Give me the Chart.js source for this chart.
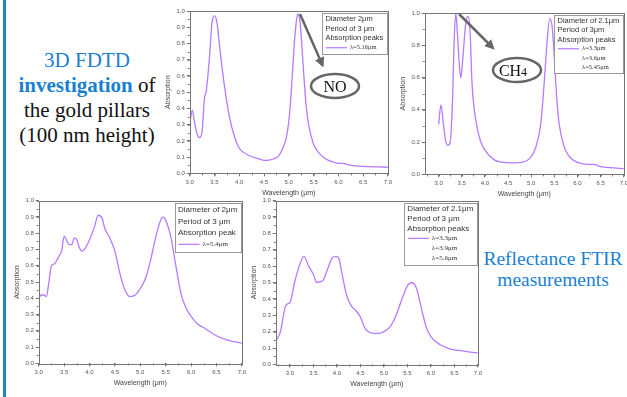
<!DOCTYPE html>
<html>
<head>
<meta charset="utf-8">
<script src="https://cdn.jsdelivr.net/npm/chart.js@4.4.1/dist/chart.umd.min.js"></script>
<style>
  html, body { margin: 0; padding: 0; background: #fff; }
  body { width: 627px; height: 397px; position: relative; overflow: hidden; }
  .bar { position: absolute; left: 3px; top: 0; width: 3px; height: 397px; background: #1f88b5; }
  .box { position: absolute; }
  .txt { position: absolute; font-family: "Liberation Serif", serif; text-align: center; color: #111; white-space: nowrap; }
  .blue { color: #1b7fd0; }
  svg { position: absolute; left: 0; top: 0; }
</style>
</head>
<body>
<div class="bar"></div>

<div class="txt" style="left:7px; top:48px; width:160px; font-size:21px; line-height:25px;">
  <span class="blue">3D FDTD</span><br>
  <b class="blue">investigation</b> of<br>
  the gold pillars<br>
  (100 nm height)
</div>

<div class="txt blue" style="left:468px; top:248px; width:170px; font-size:19.5px; line-height:21px;">
  Reflectance FTIR<br>measurements
</div>

<div class="box" style="left:164px; top:4px; width:230px; height:193px;"><canvas id="c1"></canvas></div>
<div class="box" style="left:399px; top:4px; width:231px; height:194px;"><canvas id="c2"></canvas></div>
<div class="box" style="left:13px; top:195px; width:235px; height:192px;"><canvas id="c3"></canvas></div>
<div class="box" style="left:250px; top:195px; width:234px; height:193px;"><canvas id="c4"></canvas></div>

<svg width="627" height="397">
  <defs>
    <marker id="ah" markerWidth="4" markerHeight="4" refX="2.5" refY="2" orient="auto">
      <path d="M0,0 L4,2 L0,4 z" fill="#666"/>
    </marker>
  </defs>
  <line x1="300" y1="14" x2="322" y2="64" stroke="#666" stroke-width="2.5" marker-end="url(#ah)"/>
  <ellipse cx="335" cy="86" rx="24" ry="12" fill="#fff" stroke="#666" stroke-width="2.5"/>
  <text x="335" y="92" font-family="Liberation Serif" font-size="16" text-anchor="middle" fill="#111">NO</text>
  <line x1="459" y1="14" x2="492" y2="47" stroke="#666" stroke-width="2.5" marker-end="url(#ah)"/>
  <ellipse cx="517" cy="70" rx="24" ry="12" fill="#fff" stroke="#666" stroke-width="2.5"/>
  <text x="513" y="76" font-family="Liberation Serif" font-size="16" text-anchor="middle" fill="#111">CH<tspan font-size="12">4</tspan></text>
</svg>

<script>
// ---- data ----
const noWave = [3.0, 3.05, 3.1, 3.15, 3.2, 3.25, 3.3, 3.33, 3.4, 3.45, 3.5, 3.55, 3.6, 3.7, 3.8, 3.9, 4.0, 4.2, 4.4, 4.5, 4.6, 4.7, 4.8, 4.9, 4.95, 5.0, 5.05, 5.1, 5.15, 5.18, 5.22, 5.25, 5.3, 5.35, 5.4, 5.5, 5.6, 5.7, 5.8, 5.9, 6.0, 6.1, 6.2, 6.4, 6.6, 6.8, 7.0];
const noAbs  = [0.30, 0.39, 0.31, 0.24, 0.22, 0.26, 0.47, 0.50, 0.72, 0.93, 0.97, 0.93, 0.79, 0.54, 0.35, 0.23, 0.155, 0.11, 0.09, 0.08, 0.082, 0.09, 0.11, 0.17, 0.22, 0.32, 0.50, 0.75, 0.93, 0.98, 0.95, 0.85, 0.62, 0.42, 0.30, 0.18, 0.13, 0.10, 0.08, 0.07, 0.062, 0.062, 0.052, 0.045, 0.042, 0.04, 0.038];

const ch4Wave = [3.0, 3.05, 3.1, 3.15, 3.2, 3.25, 3.3, 3.33, 3.37, 3.4, 3.45, 3.48, 3.52, 3.58, 3.63, 3.68, 3.72, 3.8, 3.9, 4.0, 4.2, 4.4, 4.6, 4.8, 4.9, 5.0, 5.1, 5.2, 5.25, 5.3, 5.35, 5.4, 5.45, 5.5, 5.55, 5.6, 5.7, 5.8, 5.9, 6.0, 6.2, 6.35, 6.5, 6.7, 7.0];
const ch4Abs  = [0.31, 0.43, 0.32, 0.21, 0.18, 0.20, 0.46, 0.78, 1.0, 0.90, 0.67, 0.60, 0.71, 0.92, 0.98, 0.88, 0.57, 0.34, 0.21, 0.15, 0.09, 0.075, 0.072, 0.075, 0.085, 0.11, 0.17, 0.30, 0.45, 0.65, 0.85, 0.965, 0.92, 0.72, 0.48, 0.32, 0.18, 0.12, 0.09, 0.075, 0.062, 0.062, 0.048, 0.042, 0.036];

const ftir1Wave = [3.0, 3.05, 3.1, 3.15, 3.2, 3.25, 3.3, 3.35, 3.4, 3.45, 3.5, 3.6, 3.65, 3.7, 3.75, 3.8, 3.85, 3.9, 4.0, 4.1, 4.17, 4.25, 4.3, 4.4, 4.5, 4.6, 4.7, 4.8, 4.9, 5.0, 5.1, 5.2, 5.3, 5.4, 5.45, 5.5, 5.6, 5.7, 5.8, 5.9, 6.0, 6.1, 6.3, 6.5, 6.7, 6.9, 7.0];
const ftir1Abs  = [0.40, 0.42, 0.42, 0.41, 0.50, 0.60, 0.61, 0.63, 0.66, 0.69, 0.78, 0.73, 0.73, 0.77, 0.76, 0.71, 0.69, 0.70, 0.76, 0.84, 0.91, 0.89, 0.83, 0.77, 0.69, 0.55, 0.45, 0.41, 0.42, 0.46, 0.52, 0.63, 0.77, 0.88, 0.90, 0.88, 0.78, 0.60, 0.43, 0.34, 0.29, 0.25, 0.21, 0.17, 0.145, 0.13, 0.125];

const ftir2Wave = [2.7, 2.8, 2.9, 2.95, 3.0, 3.1, 3.2, 3.3, 3.4, 3.5, 3.57, 3.7, 3.8, 3.9, 4.0, 4.05, 4.1, 4.2, 4.3, 4.4, 4.5, 4.6, 4.7, 4.8, 4.9, 5.0, 5.1, 5.2, 5.3, 5.4, 5.5, 5.6, 5.7, 5.8, 5.9, 6.0, 6.2, 6.4, 6.6, 6.8, 7.0];
const ftir2Abs  = [0.14, 0.20, 0.35, 0.37, 0.375, 0.50, 0.60, 0.66, 0.60, 0.55, 0.50, 0.51, 0.58, 0.65, 0.66, 0.64, 0.57, 0.43, 0.36, 0.33, 0.29, 0.22, 0.195, 0.19, 0.19, 0.20, 0.22, 0.26, 0.33, 0.41, 0.48, 0.50, 0.46, 0.34, 0.23, 0.17, 0.12, 0.095, 0.085, 0.077, 0.07];

const legend1 = ["Diameter 2\u03bcm", "Period of 3 \u03bcm", "Absorption peaks"];
const peaks1 = ["\u03bb=5.16\u03bcm"];
const legend2 = ["Diameter of 2.1\u03bcm", "Period of 3\u03bcm", "Absorption peaks"];
const peaks2 = ["\u03bb=3.3\u03bcm", "\u03bb=3.6\u03bcm", "\u03bb=5.45\u03bcm"];
const legend3 = ["Diameter of 2\u03bcm", "Period of 3 \u03bcm", "Absorption peak"];
const peaks3 = ["\u03bb=5.4\u03bcm"];
const legend4 = ["Diameter of 2.1\u03bcm", "Period of 3 \u03bcm", "Absorption peaks"];
const peaks4 = ["\u03bb=3.3\u03bcm", "\u03bb=3.9\u03bcm", "\u03bb=5.6\u03bcm"];

const LINE = "#b57bff";
const AXIS = "#777";
const TICKTXT = "#555";

// frame round the plot + minor ticks + boxed legend (Origin style)
const originPlugin = {
  id: "origin",
  afterDraw(chart) {
    const { ctx, chartArea: a, scales } = chart;
    const o = chart.options.plugins.origin;
    ctx.save();
    ctx.strokeStyle = AXIS;
    ctx.lineWidth = 1;
    ctx.strokeRect(Math.round(a.left) + 0.5, Math.round(a.top) + 0.5,
      Math.round(a.right - a.left), Math.round(a.bottom - a.top));

    // minor ticks
    ctx.beginPath();
    const xs = scales.x, ys = scales.y;
    for (let v = Math.ceil(xs.min / 0.25) * 0.25; v <= xs.max + 1e-9; v += 0.25) {
      const px = Math.round(xs.getPixelForValue(v)) + 0.5;
      ctx.moveTo(px, a.bottom); ctx.lineTo(px, a.bottom + 2);
    }
    for (let v = 0; v <= 1 + 1e-9; v += o.yMinor) {
      const py = Math.round(ys.getPixelForValue(v)) + 0.5;
      ctx.moveTo(a.left, py); ctx.lineTo(a.left - 2, py);
    }
    ctx.stroke();

    // legend box
    const head = o.head, peaks = o.peaks, fs = o.fs, lh = o.lh;
    const sans = fs + "px 'Liberation Sans', Arial";
    const serif = (fs - 1) + "px 'Liberation Serif', serif";
    ctx.font = sans;
    let w = 0;
    head.forEach(t => { w = Math.max(w, ctx.measureText(t).width); });
    ctx.font = serif;
    peaks.forEach(t => { w = Math.max(w, ctx.measureText(t).width + 28); });
    w += 7;
    const h = (head.length + peaks.length) * lh + 3;
    const x0 = a.right - w - 1, y0 = a.top + 2;
    ctx.fillStyle = "#fff";
    ctx.fillRect(x0, y0, w, h);
    ctx.strokeStyle = "#999";
    ctx.strokeRect(Math.round(x0) + 0.5, Math.round(y0) + 0.5, Math.round(w), Math.round(h));
    ctx.fillStyle = "#333";
    ctx.textBaseline = "middle";
    ctx.font = sans;
    head.forEach((t, i) => ctx.fillText(t, x0 + 3.5, y0 + 1.5 + lh * (i + 0.5)));
    ctx.font = serif;
    peaks.forEach((t, i) => {
      const yy = y0 + 1.5 + lh * (head.length + i + 0.5);
      if (i === 0) {
        ctx.strokeStyle = LINE; ctx.lineWidth = 1.2;
        ctx.beginPath(); ctx.moveTo(x0 + 4, yy); ctx.lineTo(x0 + 25, yy); ctx.stroke();
      }
      ctx.fillText(t, x0 + 28, yy);
    });
    ctx.restore();
  }
};

function makeChart(id, wave, abs, xMin, yStep, yMinor, head, peaks, fs, lh, padTop) {
  const pts = wave.map((x, i) => ({ x: x, y: abs[i] }));
  return new Chart(document.getElementById(id), {
    type: "line",
    data: {
      datasets: [{
        data: pts,
        borderColor: LINE,
        borderWidth: 1.3,
        pointRadius: 0,
        cubicInterpolationMode: "monotone",
        fill: false,
      }],
    },
    options: {
      responsive: true,
      maintainAspectRatio: false,
      animation: false,
      layout: { padding: { top: padTop, right: 4 } },
      plugins: {
        legend: { display: false },
        tooltip: { enabled: false },
        origin: { head: head, peaks: peaks, yMinor: yMinor, fs: fs, lh: lh },
      },
      scales: {
        x: {
          type: "linear",
          min: xMin,
          max: 7.0,
          border: { display: false },
          grid: { drawOnChartArea: false, tickLength: 3, color: AXIS },
          ticks: {
            stepSize: 0.5, includeBounds: false, maxRotation: 0,
            color: TICKTXT, font: { size: 6, family: "'Liberation Sans', Arial" }, padding: 2,
            callback: (v) => v.toFixed(1),
          },
          title: {
            display: true, text: "Wavelength (\u03bcm)", color: "#444",
            font: { size: 7, family: "'Liberation Sans', Arial" }, padding: { top: 1, bottom: 0 },
          },
        },
        y: {
          min: 0,
          max: 1,
          border: { display: false },
          grid: { drawOnChartArea: false, tickLength: 3, color: AXIS },
          ticks: {
            stepSize: yStep,
            color: TICKTXT, font: { size: 6, family: "'Liberation Sans', Arial" }, padding: 2,
            callback: (v) => v.toFixed(1),
          },
          title: {
            display: true, text: "Absorption", color: "#444",
            font: { size: 7, family: "'Liberation Sans', Arial" }, padding: { top: 0, bottom: 2 },
          },
        },
      },
    },
    plugins: [originPlugin],
  });
}

makeChart("c1", noWave, noAbs, 3.0, 0.1, 0.05, legend1, peaks1, 7.5, 9.5, 7);
makeChart("c2", ch4Wave, ch4Abs, 2.7, 0.2, 0.1, legend2, peaks2, 7.5, 9.2, 9);
makeChart("c3", ftir1Wave, ftir1Abs, 3.0, 0.1, 0.05, legend3, peaks3, 8, 11.5, 4);
makeChart("c4", ftir2Wave, ftir2Abs, 2.7, 0.1, 0.05, legend4, peaks4, 8, 9.8, 4);
</script>
</body>
</html>
